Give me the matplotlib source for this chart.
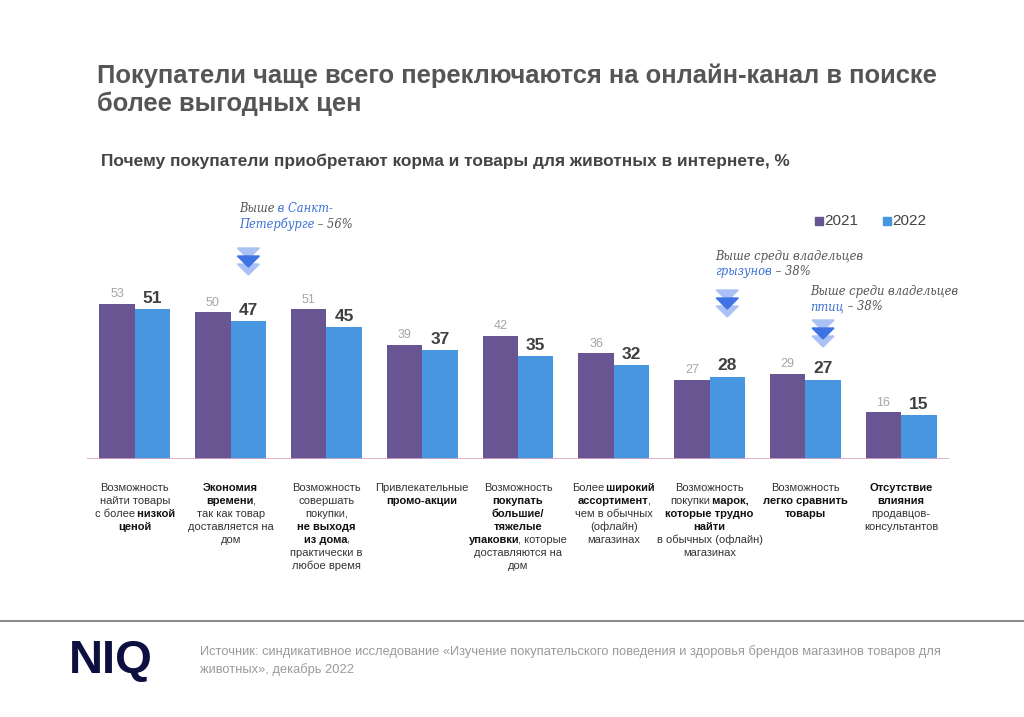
import matplotlib
matplotlib.use('Agg')
from matplotlib import pyplot as plt
from matplotlib.patches import Polygon, Rectangle
from matplotlib.lines import Line2D

plt.rcParams['font.family'] = ['Liberation Sans', 'DejaVu Sans']

years = ['2021', '2022']
vals_2021 = [53, 50, 51, 39, 42, 36, 27, 29, 16]
vals_2022 = [51, 47, 45, 37, 35, 32, 28, 27, 15]

# **...** marks bold parts
cat_labels = [
    ['Возможность', 'найти товары', 'с более **низкой**', '**ценой**'],
    ['**Экономия**', '**времени**,', 'так как товар', 'доставляется на', 'дом'],
    ['Возможность', 'совершать', 'покупки,', '**не выходя**', '**из дома**,',
     'практически в', 'любое время'],
    ['Привлекательные', '**промо-акции**'],
    ['Возможность', '**покупать**', '**большие/**', '**тяжелые**',
     '**упаковки**, которые', 'доставляются на', 'дом'],
    ['Более **широкий**', '**ассортимент**,', 'чем в обычных', '(офлайн)',
     'магазинах'],
    ['Возможность', 'покупки **марок,**', '**которые трудно**', '**найти**',
     'в обычных (офлайн)', 'магазинах'],
    ['Возможность', '**легко сравнить**', '**товары**'],
    ['**Отсутствие**', '**влияния**', 'продавцов-', 'консультантов'],
]

# callouts: (category index, lines); ## marks the blue part
callouts = [
    (1, ['Выше ##в Санкт-##', '##Петербурге## – 56%']),
    (6, ['Выше среди владельцев', '##грызунов## – 38%']),
    (7, ['Выше среди владельцев', '##птиц## – 38%']),
]

PURPLE = '#685592'
BLUE = '#4796df'
W, H = 1024, 717

fig = plt.figure(figsize=(W / 100, H / 100), dpi=100)
renderer = fig.canvas.get_renderer()


def fx(px):
    return px / W


def fy(py):
    return 1 - py / H


def split_marked(s, mark):
    parts = s.split(mark)
    return [(p, i % 2 == 1) for i, p in enumerate(parts) if p]


# --- titles
fig.text(fx(97), fy(76), 'Покупатели чаще всего переключаются на онлайн-канал в поиске',
         fontsize=18.4, fontweight='bold', color='#555555', va='center')
fig.text(fx(97), fy(104), 'более выгодных цен',
         fontsize=18.4, fontweight='bold', color='#555555', va='center')
fig.text(fx(101), fy(161),
         'Почему покупатели приобретают корма и товары для животных в интернете, %',
         fontsize=12.4, fontweight='bold', color='#444444', va='center')

# --- bars
ax = fig.add_axes([fx(87), fy(459), fx(949) - fx(87), (459 - 283) / H])
x = list(range(len(vals_2021)))
bw = 0.37
ax.bar([i - bw / 2 for i in x], vals_2021, width=bw, color=PURPLE, zorder=2)
ax.bar([i + bw / 2 for i in x], vals_2022, width=bw, color=BLUE, zorder=2)
for i in x:
    ax.annotate(str(vals_2021[i]), (i - bw / 2, vals_2021[i]), xytext=(0, 2.5),
                textcoords='offset points', ha='center', va='bottom',
                fontsize=9, color='#a6a6a6')
    ax.annotate(str(vals_2022[i]), (i + bw / 2, vals_2022[i]), xytext=(0, 2.5),
                textcoords='offset points', ha='center', va='bottom',
                fontsize=12.5, fontweight='bold', color='#404040')
ax.set_xlim(-0.5, len(x) - 0.5)
ax.set_ylim(0, 60)
ax.axis('off')
ax.axhline(0, color='#d9a3c3', lw=1.2, zorder=3)


def rich_line(x, y, pieces, ha='center', kern=-0.9, **kw):
    # pieces chained one after another; spaces moved to the front of the next piece
    norm, carry = [], ''
    for s, props in pieces:
        s = carry + s
        carry = s[len(s.rstrip()):]
        norm.append((s.rstrip(), props))
    first = fig.text(fx(x), fy(y), norm[0][0], ha='left', va='center',
                     **dict(kw, **norm[0][1]))
    prev = first
    for s, props in norm[1:]:
        prev = ax.annotate(s, xy=(1, 0), xycoords=prev, xytext=(kern, 0),
                           textcoords='offset points', ha='left', va='bottom',
                           annotation_clip=False, **dict(kw, **props))
    if ha == 'center':
        x0 = first.get_window_extent(renderer).x0
        x1 = prev.get_window_extent(renderer).x1
        first.set_x(fx(x - (x1 - x0) / 2))


# --- category labels
for i, lines in enumerate(cat_labels):
    cx = ax.transData.transform((i, 0))[0]
    for k, line in enumerate(lines):
        pieces = [(p, {'fontweight': 'bold' if b else 'normal',
                       'color': '#111111' if b else '#333333'})
                  for p, b in split_marked(line, '**')]
        rich_line(cx, 488 + 13 * k, pieces, fontsize=8)


# --- callouts with chevrons
def chevrons(cx, top):
    light, dark = '#aac1f6', '#3f72e3'
    for dy, c, z in [(0, light, 5), (16, light, 5), (8, dark, 6)]:
        pts = [(cx - 11, top + dy), (cx + 11, top + dy), (cx, top + dy + 11)]
        fig.patches.append(Polygon([(fx(a), fy(b)) for a, b in pts], closed=True,
                                   transform=fig.transFigure, color=c, zorder=z))


callout_pos = {1: (239, 209, 248), 6: (715, 256, 290), 7: (810, 292, 320)}
for idx, lines in callouts:
    tx, ty, ctop = callout_pos[idx]
    for k, line in enumerate(lines):
        pieces = [(p, {'color': '#3b6fd6' if b else '#555555'})
                  for p, b in split_marked(line, '##')]
        rich_line(tx, ty + 15 * k, pieces, ha='left', kern=0, fontsize=8.3,
                  family='DejaVu Serif', style='italic')
    cx = ax.transData.transform((idx + bw / 2, 0))[0]
    chevrons(cx, ctop)

# --- legend
for (lx, col, lab) in [(815, PURPLE, years[0]), (883, BLUE, years[1])]:
    fig.patches.append(Rectangle((fx(lx), fy(225)), 8 / W, 8 / H,
                                 transform=fig.transFigure, color=col))
    fig.text(fx(lx + 9), fy(221), lab, fontsize=11, color='#444444', va='center')

# --- footer
fig.lines.append(Line2D([0, 1], [fy(621), fy(621)], transform=fig.transFigure,
                        color='#8c8c8c', lw=1.5))
fig.text(fx(69), fy(661), 'NIQ', fontsize=34, fontweight='bold', color='#0c0f3f',
         va='center')
fig.text(fx(200), fy(652),
         'Источник: синдикативное исследование «Изучение покупательского поведения и здоровья брендов магазинов товаров для',
         fontsize=9.3, color='#9a9a9a', va='center')
fig.text(fx(200), fy(670), 'животных», декабрь 2022',
         fontsize=9.3, color='#9a9a9a', va='center')

fig.savefig('out.png', dpi=100)
